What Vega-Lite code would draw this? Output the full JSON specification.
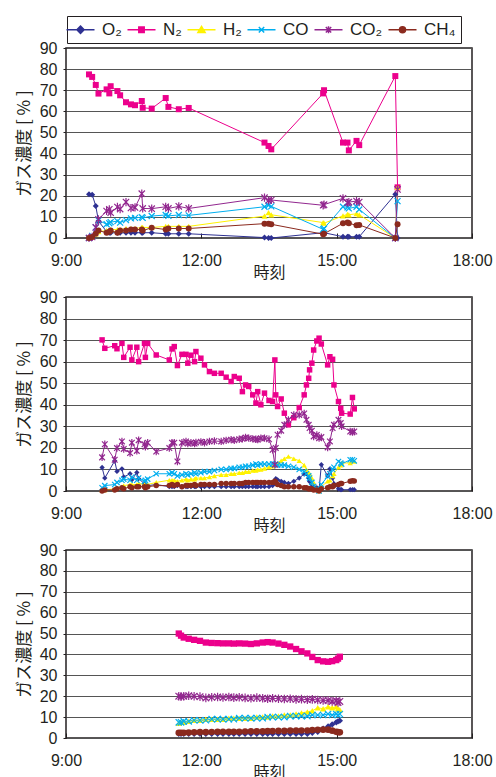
{
  "$schema": "https://vega.github.io/schema/vega-lite/v6.json",
  "padding": {"left": 14, "top": 15, "right": 5, "bottom": 5},
  "background": "white",
  "bounds": "flush",
  "spacing": 59,
  "config": {
    "view": {"stroke": "#231f20", "strokeWidth": 1.5},
    "axis": {"domain": false, "labelFont": "Liberation Sans", "labelFontSize": 16, "labelColor": "#231f20", "titleFont": "Noto Sans CJK JP", "titleFontWeight": "normal", "titleColor": "#231f20", "tickColor": "#231f20", "labelOverlap": false},
    "legend": {"orient": "none", "legendX": 1, "legendY": -32, "direction": "horizontal", "strokeColor": "#231f20", "padding": 5, "labelFont": "Liberation Sans", "labelFontSize": 17, "labelColor": "#231f20", "symbolSize": 36, "symbolStrokeWidth": 1.5, "labelOffset": 13, "columnPadding": 2, "labelLimit": 300, "title": null}
  },
  "resolve": {"scale": {"color": "shared"}},
  "datasets": {
    "gasifier": [
      {"hour":9.51,"O2":20.7,"N2":77.5,"H2":0,"CO":0,"CO2":0,"CH4":0},
      {"hour":9.58,"O2":20.5,"N2":76.3,"H2":0.5,"CO":1,"CO2":0.5,"CH4":0.5},
      {"hour":9.66,"O2":15.2,"N2":72.5,"H2":2,"CO":5,"CO2":5,"CH4":2},
      {"hour":9.72,"O2":8,"N2":68.4,"H2":3,"CO":8.4,"CO2":8.8,"CH4":3.5},
      {"hour":9.9,"O2":3,"N2":70.4,"H2":3.5,"CO":6.5,"CO2":12.8,"CH4":2.5},
      {"hour":9.96,"O2":2.5,"N2":68.5,"H2":3.5,"CO":7,"CO2":13.6,"CH4":3},
      {"hour":9.99,"O2":2.5,"N2":71.9,"H2":4,"CO":7.5,"CO2":12,"CH4":3.5},
      {"hour":10.14,"O2":2.5,"N2":69.6,"H2":4,"CO":8,"CO2":14.7,"CH4":2.5},
      {"hour":10.2,"O2":2.5,"N2":67.6,"H2":4,"CO":7.3,"CO2":13.7,"CH4":3.5},
      {"hour":10.33,"O2":2.5,"N2":64.3,"H2":4.5,"CO":8.5,"CO2":17,"CH4":3.5},
      {"hour":10.44,"O2":2.5,"N2":63.3,"H2":4.5,"CO":9.3,"CO2":14.2,"CH4":4},
      {"hour":10.53,"O2":2.5,"N2":62.9,"H2":4.5,"CO":9.5,"CO2":14.5,"CH4":4},
      {"hour":10.68,"O2":2.5,"N2":64.9,"H2":5,"CO":9.9,"CO2":21,"CH4":4},
      {"hour":10.7,"O2":2.5,"N2":61.7,"H2":5,"CO":9.5,"CO2":14,"CH4":3.5},
      {"hour":10.9,"O2":2.5,"N2":61.3,"H2":5,"CO":10.4,"CO2":13.9,"CH4":4.9},
      {"hour":11.21,"O2":2,"N2":66.3,"H2":5.5,"CO":10.9,"CO2":14.8,"CH4":4},
      {"hour":11.27,"O2":2,"N2":62.1,"H2":5.5,"CO":10.5,"CO2":14,"CH4":4.5},
      {"hour":11.5,"O2":2,"N2":61,"H2":5.5,"CO":10.9,"CO2":15,"CH4":4.5},
      {"hour":11.72,"O2":2,"N2":61.6,"H2":5.5,"CO":10.7,"CO2":14,"CH4":4.5},
      {"hour":13.4,"O2":0.2,"N2":45.2,"H2":10.4,"CO":14.8,"CO2":19.1,"CH4":6.8},
      {"hour":13.49,"O2":0,"N2":43.6,"H2":12,"CO":15.5,"CO2":17.8,"CH4":6.8},
      {"hour":13.55,"O2":0,"N2":42,"H2":11,"CO":15,"CO2":18,"CH4":6.5},
      {"hour":14.7,"O2":2.5,"N2":68.5,"H2":7.3,"CO":4.1,"CO2":15.5,"CH4":1.8},
      {"hour":14.72,"O2":2.5,"N2":70,"H2":7,"CO":4.5,"CO2":15.8,"CH4":2},
      {"hour":15.14,"O2":0.6,"N2":45.2,"H2":10.5,"CO":14.8,"CO2":18.8,"CH4":7},
      {"hour":15.24,"O2":0.6,"N2":45.2,"H2":11.2,"CO":14.5,"CO2":16.7,"CH4":7.3},
      {"hour":15.27,"O2":0.6,"N2":41.5,"H2":11,"CO":14,"CO2":17,"CH4":7},
      {"hour":15.44,"O2":0.6,"N2":46,"H2":11.5,"CO":14.8,"CO2":17.5,"CH4":6},
      {"hour":15.5,"O2":0.6,"N2":44,"H2":11,"CO":13.5,"CO2":17,"CH4":6.2},
      {"hour":16.3,"O2":20.7,"N2":76.7,"H2":0,"CO":0,"CO2":0,"CH4":0},
      {"hour":16.35,"O2":0,"N2":24,"H2":24,"CO":17.5,"CO2":23,"CH4":6.5}
    ],
    "reformer": [
      {"hour":9.8,"O2":10.9,"N2":70.1,"H2":0.5,"CO":1.5,"CO2":15.6,"CH4":0},
      {"hour":9.86,"O2":6,"N2":66.2,"H2":0.5,"CO":2.5,"CO2":21.7,"CH4":0.5},
      {"hour":10.08,"O2":14,"N2":67.4,"H2":1,"CO":3,"CO2":14.5,"CH4":0.5},
      {"hour":10.13,"O2":9.1,"N2":66,"H2":1.5,"CO":4,"CO2":19.9,"CH4":1},
      {"hour":10.24,"O2":10.3,"N2":68.5,"H2":2,"CO":5,"CO2":23,"CH4":1.5},
      {"hour":10.28,"O2":6.5,"N2":62,"H2":2.5,"CO":5.5,"CO2":19.5,"CH4":1},
      {"hour":10.42,"O2":8,"N2":66.7,"H2":3,"CO":5,"CO2":17.6,"CH4":2},
      {"hour":10.46,"O2":5.2,"N2":60.8,"H2":3,"CO":6.5,"CO2":22.4,"CH4":1.5},
      {"hour":10.57,"O2":8.6,"N2":66.7,"H2":3,"CO":5,"CO2":18.6,"CH4":2},
      {"hour":10.61,"O2":5.7,"N2":60,"H2":3.5,"CO":6,"CO2":23.6,"CH4":2},
      {"hour":10.74,"O2":3.4,"N2":68.5,"H2":3,"CO":4.5,"CO2":21.7,"CH4":2},
      {"hour":10.76,"O2":3,"N2":62,"H2":2.5,"CO":5,"CO2":20.5,"CH4":1.5},
      {"hour":10.81,"O2":2.5,"N2":68.5,"H2":3,"CO":5.5,"CO2":22.4,"CH4":2},
      {"hour":11,"O2":3,"N2":63.1,"H2":4,"CO":8,"CO2":18.3,"CH4":2.5},
      {"hour":11.29,"O2":2,"N2":60.8,"H2":5,"CO":8,"CO2":19.9,"CH4":2.5},
      {"hour":11.35,"O2":2,"N2":65.9,"H2":5,"CO":8.5,"CO2":22.4,"CH4":3},
      {"hour":11.4,"O2":2,"N2":67,"H2":5,"CO":8,"CO2":22.4,"CH4":2.5},
      {"hour":11.47,"O2":2.5,"N2":58.2,"H2":4.5,"CO":7,"CO2":13.7,"CH4":3},
      {"hour":11.57,"O2":2,"N2":63.4,"H2":5,"CO":7.5,"CO2":22.4,"CH4":2},
      {"hour":11.66,"O2":2,"N2":63.4,"H2":5.5,"CO":8,"CO2":23,"CH4":2.5},
      {"hour":11.7,"O2":2,"N2":59.3,"H2":5,"CO":7.5,"CO2":22,"CH4":2.5},
      {"hour":11.77,"O2":2,"N2":63,"H2":5.5,"CO":8,"CO2":22.4,"CH4":2.5},
      {"hour":11.85,"O2":2,"N2":60,"H2":5.5,"CO":8.5,"CO2":22,"CH4":3},
      {"hour":11.88,"O2":2,"N2":64.7,"H2":6,"CO":8,"CO2":22.5,"CH4":2.5},
      {"hour":11.99,"O2":2,"N2":61.6,"H2":6,"CO":8.5,"CO2":22.8,"CH4":3},
      {"hour":12.07,"O2":2,"N2":58.5,"H2":6,"CO":9,"CO2":22.4,"CH4":3},
      {"hour":12.18,"O2":2,"N2":55.4,"H2":6.5,"CO":9,"CO2":23,"CH4":3},
      {"hour":12.29,"O2":2,"N2":54.6,"H2":7,"CO":9.5,"CO2":23.2,"CH4":3},
      {"hour":12.44,"O2":2,"N2":54.6,"H2":7.5,"CO":10,"CO2":23,"CH4":3.5},
      {"hour":12.55,"O2":2,"N2":52.8,"H2":7.5,"CO":10,"CO2":23.5,"CH4":3.5},
      {"hour":12.66,"O2":2,"N2":50.8,"H2":8,"CO":10.5,"CO2":23.8,"CH4":3.5},
      {"hour":12.73,"O2":2,"N2":53.1,"H2":8,"CO":10.5,"CO2":23.5,"CH4":3.5},
      {"hour":12.84,"O2":2,"N2":52.3,"H2":8.5,"CO":11,"CO2":24,"CH4":3.5},
      {"hour":12.91,"O2":2,"N2":46.1,"H2":8.5,"CO":11,"CO2":24.2,"CH4":3.5},
      {"hour":12.98,"O2":2,"N2":49.2,"H2":9,"CO":11.5,"CO2":24.8,"CH4":4},
      {"hour":13.05,"O2":2,"N2":48.5,"H2":9,"CO":11.5,"CO2":24.5,"CH4":4},
      {"hour":13.14,"O2":2,"N2":44.6,"H2":9.5,"CO":12,"CO2":24.2,"CH4":4},
      {"hour":13.21,"O2":2,"N2":40.8,"H2":9.5,"CO":12.5,"CO2":24,"CH4":4},
      {"hour":13.25,"O2":2,"N2":46.1,"H2":10,"CO":12,"CO2":23.8,"CH4":4},
      {"hour":13.32,"O2":2,"N2":40,"H2":10,"CO":12.5,"CO2":24.5,"CH4":4},
      {"hour":13.4,"O2":2,"N2":45.4,"H2":10.5,"CO":12.5,"CO2":24.5,"CH4":4},
      {"hour":13.5,"O2":2,"N2":42,"H2":11,"CO":12.5,"CO2":24,"CH4":4},
      {"hour":13.58,"O2":2.5,"N2":41.5,"H2":11.5,"CO":12.5,"CO2":19.1,"CH4":4},
      {"hour":13.63,"O2":3.5,"N2":60.8,"H2":12,"CO":12.2,"CO2":12.2,"CH4":4.5},
      {"hour":13.65,"O2":5.7,"N2":44.6,"H2":12.5,"CO":12.5,"CO2":20,"CH4":4},
      {"hour":13.69,"O2":5.2,"N2":39.2,"H2":13,"CO":12,"CO2":26.1,"CH4":3},
      {"hour":13.77,"O2":4.5,"N2":42.7,"H2":14,"CO":12,"CO2":28,"CH4":2.5},
      {"hour":13.84,"O2":4,"N2":36.1,"H2":15,"CO":12,"CO2":30.7,"CH4":2},
      {"hour":13.93,"O2":3.5,"N2":30.7,"H2":16,"CO":11.5,"CO2":33,"CH4":2},
      {"hour":14.05,"O2":4.5,"N2":34,"H2":15,"CO":11,"CO2":35.3,"CH4":2},
      {"hour":14.17,"O2":6,"N2":38.7,"H2":14,"CO":10,"CO2":35.3,"CH4":2},
      {"hour":14.28,"O2":7.9,"N2":44.6,"H2":12,"CO":9,"CO2":36,"CH4":1.5},
      {"hour":14.33,"O2":7.9,"N2":49.2,"H2":10,"CO":8,"CO2":33,"CH4":1.5},
      {"hour":14.38,"O2":6,"N2":52.3,"H2":8.5,"CO":7,"CO2":30.7,"CH4":1},
      {"hour":14.4,"O2":4.4,"N2":56.2,"H2":8,"CO":6,"CO2":29.2,"CH4":1},
      {"hour":14.45,"O2":3,"N2":59.3,"H2":6,"CO":4,"CO2":28,"CH4":1},
      {"hour":14.49,"O2":2,"N2":65.4,"H2":4,"CO":2.1,"CO2":25.3,"CH4":0.5},
      {"hour":14.56,"O2":1.5,"N2":69.6,"H2":1,"CO":1,"CO2":26,"CH4":0.5},
      {"hour":14.61,"O2":0.5,"N2":70.9,"H2":0,"CO":0,"CO2":24.5,"CH4":0},
      {"hour":14.66,"O2":12.2,"N2":68.2,"H2":2,"CO":3,"CO2":25,"CH4":1},
      {"hour":14.8,"O2":7,"N2":58.5,"H2":4.5,"CO":6.8,"CO2":20.2,"CH4":1.5},
      {"hour":14.85,"O2":10.3,"N2":62.3,"H2":5,"CO":8,"CO2":23,"CH4":2},
      {"hour":14.91,"O2":6,"N2":61.1,"H2":7,"CO":10,"CO2":29.2,"CH4":2},
      {"hour":14.94,"O2":3.4,"N2":49.2,"H2":8,"CO":11,"CO2":30.7,"CH4":2.5},
      {"hour":15.04,"O2":1,"N2":41.5,"H2":11,"CO":13.7,"CO2":33,"CH4":3},
      {"hour":15.09,"O2":0.6,"N2":38.4,"H2":12,"CO":13,"CO2":31.5,"CH4":3.5},
      {"hour":15.11,"O2":0.6,"N2":36.1,"H2":13,"CO":12.5,"CO2":30,"CH4":3.5},
      {"hour":15.3,"O2":0.6,"N2":35.7,"H2":13,"CO":14.5,"CO2":27.6,"CH4":4.5},
      {"hour":15.35,"O2":0.6,"N2":43.4,"H2":14,"CO":14.5,"CO2":27.3,"CH4":4.8},
      {"hour":15.39,"O2":0.6,"N2":38.1,"H2":13.7,"CO":14,"CO2":27.6,"CH4":4.6}
    ],
    "refining": [
      {"hour":11.5,"O2":2,"N2":50,"H2":7,"CO":7.5,"CO2":20,"CH4":2.5},
      {"hour":11.55,"O2":2,"N2":49,"H2":7.5,"CO":7.5,"CO2":19.8,"CH4":2.5},
      {"hour":11.61,"O2":2,"N2":48.1,"H2":7.5,"CO":8,"CO2":20,"CH4":2.5},
      {"hour":11.72,"O2":2,"N2":47.5,"H2":8,"CO":8,"CO2":20.2,"CH4":2.6},
      {"hour":11.84,"O2":2,"N2":47,"H2":8.5,"CO":8.5,"CO2":20,"CH4":2.7},
      {"hour":11.97,"O2":2,"N2":46.5,"H2":8.5,"CO":8.5,"CO2":19.8,"CH4":2.8},
      {"hour":12.1,"O2":2,"N2":45.7,"H2":9,"CO":8.5,"CO2":19.2,"CH4":2.8},
      {"hour":12.23,"O2":2,"N2":45.5,"H2":9,"CO":9,"CO2":19.5,"CH4":2.9},
      {"hour":12.36,"O2":2,"N2":45.4,"H2":9,"CO":9,"CO2":19.6,"CH4":3},
      {"hour":12.48,"O2":2,"N2":45.3,"H2":9,"CO":9,"CO2":19.4,"CH4":3},
      {"hour":12.61,"O2":2,"N2":45.3,"H2":9.5,"CO":9,"CO2":19.6,"CH4":3},
      {"hour":12.72,"O2":2,"N2":45.2,"H2":9.5,"CO":9,"CO2":19.3,"CH4":3},
      {"hour":12.84,"O2":2,"N2":45.3,"H2":9.5,"CO":9.5,"CO2":19.5,"CH4":3},
      {"hour":12.97,"O2":2,"N2":45.2,"H2":9.5,"CO":9.5,"CO2":19.2,"CH4":3.1},
      {"hour":13.1,"O2":2,"N2":45,"H2":9.5,"CO":9.5,"CO2":19,"CH4":3.2},
      {"hour":13.23,"O2":2,"N2":45.3,"H2":10,"CO":9.5,"CO2":19.3,"CH4":3.2},
      {"hour":13.36,"O2":2,"N2":45.7,"H2":10,"CO":9.5,"CO2":19,"CH4":3.2},
      {"hour":13.47,"O2":2,"N2":45.9,"H2":10,"CO":10,"CO2":18.8,"CH4":3.3},
      {"hour":13.58,"O2":2,"N2":45.7,"H2":10.5,"CO":10,"CO2":19,"CH4":3.3},
      {"hour":13.71,"O2":2,"N2":45.2,"H2":10.5,"CO":10,"CO2":18.8,"CH4":3.4},
      {"hour":13.84,"O2":2,"N2":44.6,"H2":11,"CO":10,"CO2":18.7,"CH4":3.4},
      {"hour":13.97,"O2":2,"N2":43.8,"H2":11,"CO":10.5,"CO2":18.8,"CH4":3.5},
      {"hour":14.1,"O2":2,"N2":42.6,"H2":11.5,"CO":10.5,"CO2":18.5,"CH4":3.5},
      {"hour":14.22,"O2":2,"N2":41.5,"H2":12,"CO":10.5,"CO2":18.6,"CH4":3.6},
      {"hour":14.35,"O2":2,"N2":40.5,"H2":12.5,"CO":10.5,"CO2":18.3,"CH4":3.6},
      {"hour":14.46,"O2":2.5,"N2":38.8,"H2":13,"CO":11,"CO2":18.5,"CH4":3.8},
      {"hour":14.58,"O2":3,"N2":37.3,"H2":14.5,"CO":11,"CO2":18.2,"CH4":3.9},
      {"hour":14.7,"O2":4.5,"N2":36.7,"H2":14,"CO":11,"CO2":18,"CH4":4},
      {"hour":14.81,"O2":5.5,"N2":36.5,"H2":15,"CO":11.5,"CO2":18,"CH4":4},
      {"hour":14.9,"O2":6.5,"N2":36.8,"H2":14.5,"CO":11,"CO2":17.5,"CH4":3.5},
      {"hour":14.99,"O2":7.5,"N2":37.3,"H2":15,"CO":11.5,"CO2":17.8,"CH4":3},
      {"hour":15.03,"O2":8,"N2":38,"H2":14,"CO":11,"CO2":17,"CH4":2.8},
      {"hour":15.07,"O2":8.3,"N2":38.9,"H2":13.5,"CO":11.5,"CO2":17.5,"CH4":2.7}
    ]
  },
  "vconcat": [
    {
      "width": 406, "height": 190,
      "data": {"name": "gasifier"},
      "transform": [{"fold": ["O2", "N2", "H2", "CO", "CO2", "CH4"], "as": ["gas", "value"]}],
      "encoding": {
        "x": {"field": "hour", "type": "quantitative", "scale": {"domain": [9, 18], "nice": false, "zero": false},
              "axis": {"values": [9, 12, 15, 18], "labelExpr": "datum.value + ':00'", "labelFlush": false, "grid": false, "tickSize": -5, "labelPadding": 19, "title": "時刻", "titleFontSize": 16, "titlePadding": -4}},
        "y": {"field": "value", "type": "quantitative", "scale": {"domain": [0, 90], "nice": false},
              "axis": {"values": [0, 10, 20, 30, 40, 50, 60, 70, 80, 90], "grid": true, "gridColor": "#555555", "gridWidth": 1, "tickSize": 3, "labelPadding": 6, "title": "ガス濃度 [ % ]", "titleFontSize": 17, "titlePadding": 6}},
        "color": {"field": "gas", "type": "nominal", "scale": {"domain": ["O2", "N2", "H2", "CO", "CO2", "CH4"], "range": ["#2e3192", "#ec008c", "#fff200", "#00aeef", "#92278f", "#8b2a1e"]},
           "legend": {"labelExpr": "replace(replace(datum.label, '2', '₂'), '4', '₄')",
             "encode": {"symbols": {"update": {
               "shape": {"signal": "datum.value === 'O2' ? 'M-4.67,0H4.67M0,-1.2L1.2,0L0,1.2L-1.2,0Z' : datum.value === 'N2' ? 'M-4.67,0H4.67M-0.9,-0.9H0.9V0.9H-0.9Z' : datum.value === 'H2' ? 'M-4.67,0H4.67M0,-1.1L1.2,0.9H-1.2Z' : datum.value === 'CO' ? 'M-4.67,0H4.67M-0.9,-0.9L0.9,0.9M-0.9,0.9L0.9,-0.9' : datum.value === 'CO2' ? 'M-4.67,0H4.67M-0.9,-0.9L0.9,0.9M-0.9,0.9L0.9,-0.9M0,-1.2V1.2' : 'M-4.67,0H4.67M-1,0A1,1,0,1,0,1,0A1,1,0,1,0,-1,0Z'"},
               "fill": {"signal": "scale('color', datum.value)"},
               "stroke": {"signal": "scale('color', datum.value)"},
               "strokeWidth": {"value": 1.5},
               "opacity": {"value": 1}}}}}}
      },
      "layer": [
        {"mark": {"type": "line", "strokeWidth": 1}},
        {"transform": [{"filter": "datum.gas === 'O2'"}], "mark": {"type": "point", "shape": "diamond", "filled": true, "opacity": 1, "size": 36}},
        {"transform": [{"filter": "datum.gas === 'N2'"}], "mark": {"type": "point", "shape": "square", "filled": true, "opacity": 1, "size": 36}},
        {"transform": [{"filter": "datum.gas === 'H2'"}], "mark": {"type": "point", "shape": "triangle-up", "filled": true, "opacity": 1, "size": 36}},
        {"transform": [{"filter": "datum.gas === 'CO'"}], "mark": {"type": "point", "shape": "M-1,-1L1,1M-1,1L1,-1", "filled": false, "opacity": 1, "size": 36, "strokeWidth": 1.2}},
        {"transform": [{"filter": "datum.gas === 'CO2'"}], "mark": {"type": "point", "shape": "M-1,-1L1,1M-1,1L1,-1M0,-1.3V1.3", "filled": false, "opacity": 1, "size": 40, "strokeWidth": 1.2}},
        {"transform": [{"filter": "datum.gas === 'CH4'"}], "mark": {"type": "point", "shape": "circle", "filled": true, "opacity": 1, "size": 36}},
        {"data": {"values": [{}]}, "mark": {"type": "rect", "fill": "white", "stroke": "#333333", "strokeWidth": 1},
         "encoding": {"x": {"datum": 16.39}, "x2": {"datum": 18}, "y": {"datum": 72.7}, "y2": {"datum": 90}, "color": {"value": "white"}}},
        {"data": {"values": [{}]}, "mark": {"type": "text", "font": "Noto Sans CJK JP", "fontSize": 16},
         "encoding": {"x": {"datum": 17.195}, "y": {"datum": 81.35}, "text": {"value": "ガス化炉"}, "color": {"value": "#231f20"}}}
      ]
    },
    {
      "width": 406, "height": 194,
      "data": {"name": "reformer"},
      "transform": [{"fold": ["O2", "N2", "H2", "CO", "CO2", "CH4"], "as": ["gas", "value"]}],
      "encoding": {
        "x": {"field": "hour", "type": "quantitative", "scale": {"domain": [9, 18], "nice": false, "zero": false},
              "axis": {"values": [9, 12, 15, 18], "labelExpr": "datum.value + ':00'", "labelFlush": false, "grid": false, "tickSize": -5, "labelPadding": 19, "title": "時刻", "titleFontSize": 16, "titlePadding": -4}},
        "y": {"field": "value", "type": "quantitative", "scale": {"domain": [0, 90], "nice": false},
              "axis": {"values": [0, 10, 20, 30, 40, 50, 60, 70, 80, 90], "grid": true, "gridColor": "#555555", "gridWidth": 1, "tickSize": 3, "labelPadding": 6, "title": "ガス濃度 [ % ]", "titleFontSize": 17, "titlePadding": 6}},
        "color": {"field": "gas", "type": "nominal", "scale": {"domain": ["O2", "N2", "H2", "CO", "CO2", "CH4"], "range": ["#2e3192", "#ec008c", "#fff200", "#00aeef", "#92278f", "#8b2a1e"]},
           "legend": {"labelExpr": "replace(replace(datum.label, '2', '₂'), '4', '₄')",
             "encode": {"symbols": {"update": {
               "shape": {"signal": "datum.value === 'O2' ? 'M-4.67,0H4.67M0,-1.2L1.2,0L0,1.2L-1.2,0Z' : datum.value === 'N2' ? 'M-4.67,0H4.67M-0.9,-0.9H0.9V0.9H-0.9Z' : datum.value === 'H2' ? 'M-4.67,0H4.67M0,-1.1L1.2,0.9H-1.2Z' : datum.value === 'CO' ? 'M-4.67,0H4.67M-0.9,-0.9L0.9,0.9M-0.9,0.9L0.9,-0.9' : datum.value === 'CO2' ? 'M-4.67,0H4.67M-0.9,-0.9L0.9,0.9M-0.9,0.9L0.9,-0.9M0,-1.2V1.2' : 'M-4.67,0H4.67M-1,0A1,1,0,1,0,1,0A1,1,0,1,0,-1,0Z'"},
               "fill": {"signal": "scale('color', datum.value)"},
               "stroke": {"signal": "scale('color', datum.value)"},
               "strokeWidth": {"value": 1.5},
               "opacity": {"value": 1}}}}}}
      },
      "layer": [
        {"mark": {"type": "line", "strokeWidth": 1}},
        {"transform": [{"filter": "datum.gas === 'O2'"}], "mark": {"type": "point", "shape": "diamond", "filled": true, "opacity": 1, "size": 28}},
        {"transform": [{"filter": "datum.gas === 'N2'"}], "mark": {"type": "point", "shape": "square", "filled": true, "opacity": 1, "size": 30}},
        {"transform": [{"filter": "datum.gas === 'H2'"}], "mark": {"type": "point", "shape": "triangle-up", "filled": true, "opacity": 1, "size": 28}},
        {"transform": [{"filter": "datum.gas === 'CO'"}], "mark": {"type": "point", "shape": "M-1,-1L1,1M-1,1L1,-1", "filled": false, "opacity": 1, "size": 28, "strokeWidth": 1.2}},
        {"transform": [{"filter": "datum.gas === 'CO2'"}], "mark": {"type": "point", "shape": "M-1,-1L1,1M-1,1L1,-1M0,-1.3V1.3", "filled": false, "opacity": 1, "size": 32, "strokeWidth": 1.2}},
        {"transform": [{"filter": "datum.gas === 'CH4'"}], "mark": {"type": "point", "shape": "circle", "filled": true, "opacity": 1, "size": 30}},
        {"data": {"values": [{}]}, "mark": {"type": "rect", "fill": "white", "stroke": "#333333", "strokeWidth": 1},
         "encoding": {"x": {"datum": 16.58}, "x2": {"datum": 18}, "y": {"datum": 73.2}, "y2": {"datum": 90}, "color": {"value": "white"}}},
        {"data": {"values": [{}]}, "mark": {"type": "text", "font": "Noto Sans CJK JP", "fontSize": 16},
         "encoding": {"x": {"datum": 17.29}, "y": {"datum": 81.6}, "text": {"value": "改質炉"}, "color": {"value": "#231f20"}}}
      ]
    },
    {
      "width": 406, "height": 188,
      "data": {"name": "refining"},
      "transform": [{"fold": ["O2", "N2", "H2", "CO", "CO2", "CH4"], "as": ["gas", "value"]}],
      "encoding": {
        "x": {"field": "hour", "type": "quantitative", "scale": {"domain": [9, 18], "nice": false, "zero": false},
              "axis": {"values": [9, 12, 15, 18], "labelExpr": "datum.value + ':00'", "labelFlush": false, "grid": false, "tickSize": -5, "labelPadding": 19, "title": "時刻", "titleFontSize": 16, "titlePadding": -4}},
        "y": {"field": "value", "type": "quantitative", "scale": {"domain": [0, 90], "nice": false},
              "axis": {"values": [0, 10, 20, 30, 40, 50, 60, 70, 80, 90], "grid": true, "gridColor": "#555555", "gridWidth": 1, "tickSize": 3, "labelPadding": 6, "title": "ガス濃度 [ % ]", "titleFontSize": 17, "titlePadding": 6}},
        "color": {"field": "gas", "type": "nominal", "scale": {"domain": ["O2", "N2", "H2", "CO", "CO2", "CH4"], "range": ["#2e3192", "#ec008c", "#fff200", "#00aeef", "#92278f", "#8b2a1e"]},
           "legend": {"labelExpr": "replace(replace(datum.label, '2', '₂'), '4', '₄')",
             "encode": {"symbols": {"update": {
               "shape": {"signal": "datum.value === 'O2' ? 'M-4.67,0H4.67M0,-1.2L1.2,0L0,1.2L-1.2,0Z' : datum.value === 'N2' ? 'M-4.67,0H4.67M-0.9,-0.9H0.9V0.9H-0.9Z' : datum.value === 'H2' ? 'M-4.67,0H4.67M0,-1.1L1.2,0.9H-1.2Z' : datum.value === 'CO' ? 'M-4.67,0H4.67M-0.9,-0.9L0.9,0.9M-0.9,0.9L0.9,-0.9' : datum.value === 'CO2' ? 'M-4.67,0H4.67M-0.9,-0.9L0.9,0.9M-0.9,0.9L0.9,-0.9M0,-1.2V1.2' : 'M-4.67,0H4.67M-1,0A1,1,0,1,0,1,0A1,1,0,1,0,-1,0Z'"},
               "fill": {"signal": "scale('color', datum.value)"},
               "stroke": {"signal": "scale('color', datum.value)"},
               "strokeWidth": {"value": 1.5},
               "opacity": {"value": 1}}}}}}
      },
      "layer": [
        {"mark": {"type": "line", "strokeWidth": 1}},
        {"transform": [{"filter": "datum.gas === 'O2'"}], "mark": {"type": "point", "shape": "diamond", "filled": true, "opacity": 1, "size": 40}},
        {"transform": [{"filter": "datum.gas === 'N2'"}], "mark": {"type": "point", "shape": "square", "filled": true, "opacity": 1, "size": 40}},
        {"transform": [{"filter": "datum.gas === 'H2'"}], "mark": {"type": "point", "shape": "triangle-up", "filled": true, "opacity": 1, "size": 40}},
        {"transform": [{"filter": "datum.gas === 'CO'"}], "mark": {"type": "point", "shape": "M-1,-1L1,1M-1,1L1,-1", "filled": false, "opacity": 1, "size": 40, "strokeWidth": 1.2}},
        {"transform": [{"filter": "datum.gas === 'CO2'"}], "mark": {"type": "point", "shape": "M-1,-1L1,1M-1,1L1,-1M0,-1.3V1.3", "filled": false, "opacity": 1, "size": 44, "strokeWidth": 1.2}},
        {"transform": [{"filter": "datum.gas === 'CH4'"}], "mark": {"type": "point", "shape": "circle", "filled": true, "opacity": 1, "size": 44}},
        {"data": {"values": [{}]}, "mark": {"type": "rect", "fill": "white", "stroke": "#333333", "strokeWidth": 1},
         "encoding": {"x": {"datum": 15.49}, "x2": {"datum": 18}, "y": {"datum": 72.5}, "y2": {"datum": 90}, "color": {"value": "white"}}},
        {"data": {"values": [{}]}, "mark": {"type": "text", "font": "Noto Sans CJK JP", "fontSize": 16},
         "encoding": {"x": {"datum": 16.745}, "y": {"datum": 81.25}, "text": {"value": "ガス精製設備"}, "color": {"value": "#231f20"}}}
      ]
    }
  ]
}
